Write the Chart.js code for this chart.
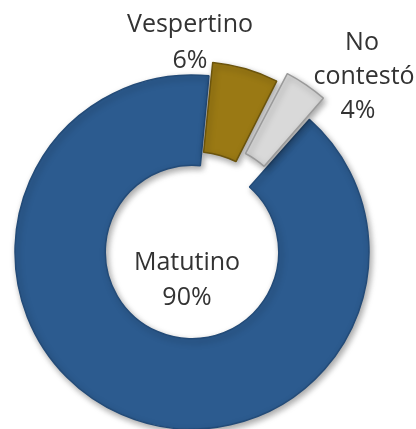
<!DOCTYPE html>
<html lang="es">
<head>
  <meta charset="UTF-8" />
  <title>Turno</title>
  <script src="https://cdn.jsdelivr.net/npm/chart.js"></script>
  <style>
    html, body { margin: 0; padding: 0; background: #fff; overflow: hidden; }
    #wrap { position: relative; width: 416px; height: 429px; }
  </style>
</head>
<body>
  <div id="wrap"><canvas id="turnoChart"></canvas></div>

  <script>
    const categories = ["Matutino", "Vespertino", "No contestó"];
    const values = [90, 6, 4];
    // label lines per slice (last line is the percentage)
    const labelLines = [["Matutino"], ["Vespertino"], ["No", "contestó"]];

    const fills = ["#2c5b8f", "#9a7914", "#d9d9d9"];
    const borders = ["#234b78", "#6b540d", "#9a9a9a"];

    // where each text block sits, relative to the ring centre: [dx, dy of first baseline, line gap]
    const labelSpots = [
      [-5, 18, 35],
      [-2, -220, 36],
      [170, -202, 34]
    ];

    const shadowPlugin = {
      id: "shadow",
      beforeDatasetDraw(chart) {
        const ctx = chart.ctx;
        ctx.save();
        ctx.shadowColor = "rgba(0,0,0,0.35)";
        ctx.shadowBlur = 6;
        ctx.shadowOffsetX = 2;
        ctx.shadowOffsetY = 3;
      },
      afterDatasetDraw(chart) {
        chart.ctx.restore();
      }
    };

    const labelPlugin = {
      id: "sliceLabels",
      afterDraw(chart) {
        const ctx = chart.ctx;
        const arcs = chart.getDatasetMeta(0).data;
        ctx.save();
        ctx.font = "25px 'Open Sans'";
        ctx.fillStyle = "#333333";
        ctx.textAlign = "center";
        ctx.textBaseline = "alphabetic";
        arcs.forEach((arc, i) => {
          const [dx, dy, gap] = labelSpots[i];
          const lines = labelLines[i].concat([values[i] + "%"]);
          lines.forEach((t, k) => {
            let x = arc.x + dx;
            if (i === 2 && k === 1) x += 2;
            if (i === 2 && k === 2) x -= 4;
            ctx.fillText(t, x, arc.y + dy + k * gap);
          });
        });
        ctx.restore();
      }
    };

    // chart.js moves a thin arc by roughly offset * 0.4 px
    new Chart(document.getElementById("turnoChart"), {
      type: "doughnut",
      data: {
        labels: categories,
        datasets: [{
          data: values,
          backgroundColor: fills,
          borderColor: borders,
          borderWidth: 1.5,
          offset: [0, 34, 58],
          radius: 177,
          cutout: "49%",
          rotation: 41.5
        }]
      },
      options: {
        responsive: true,
        maintainAspectRatio: false,
        animation: false,
        layout: { padding: { left: 0, right: 32, top: 75, bottom: 0 } },
        plugins: {
          legend: { display: false },
          tooltip: { enabled: false }
        }
      },
      plugins: [shadowPlugin, labelPlugin]
    });
  </script>
</body>
</html>
